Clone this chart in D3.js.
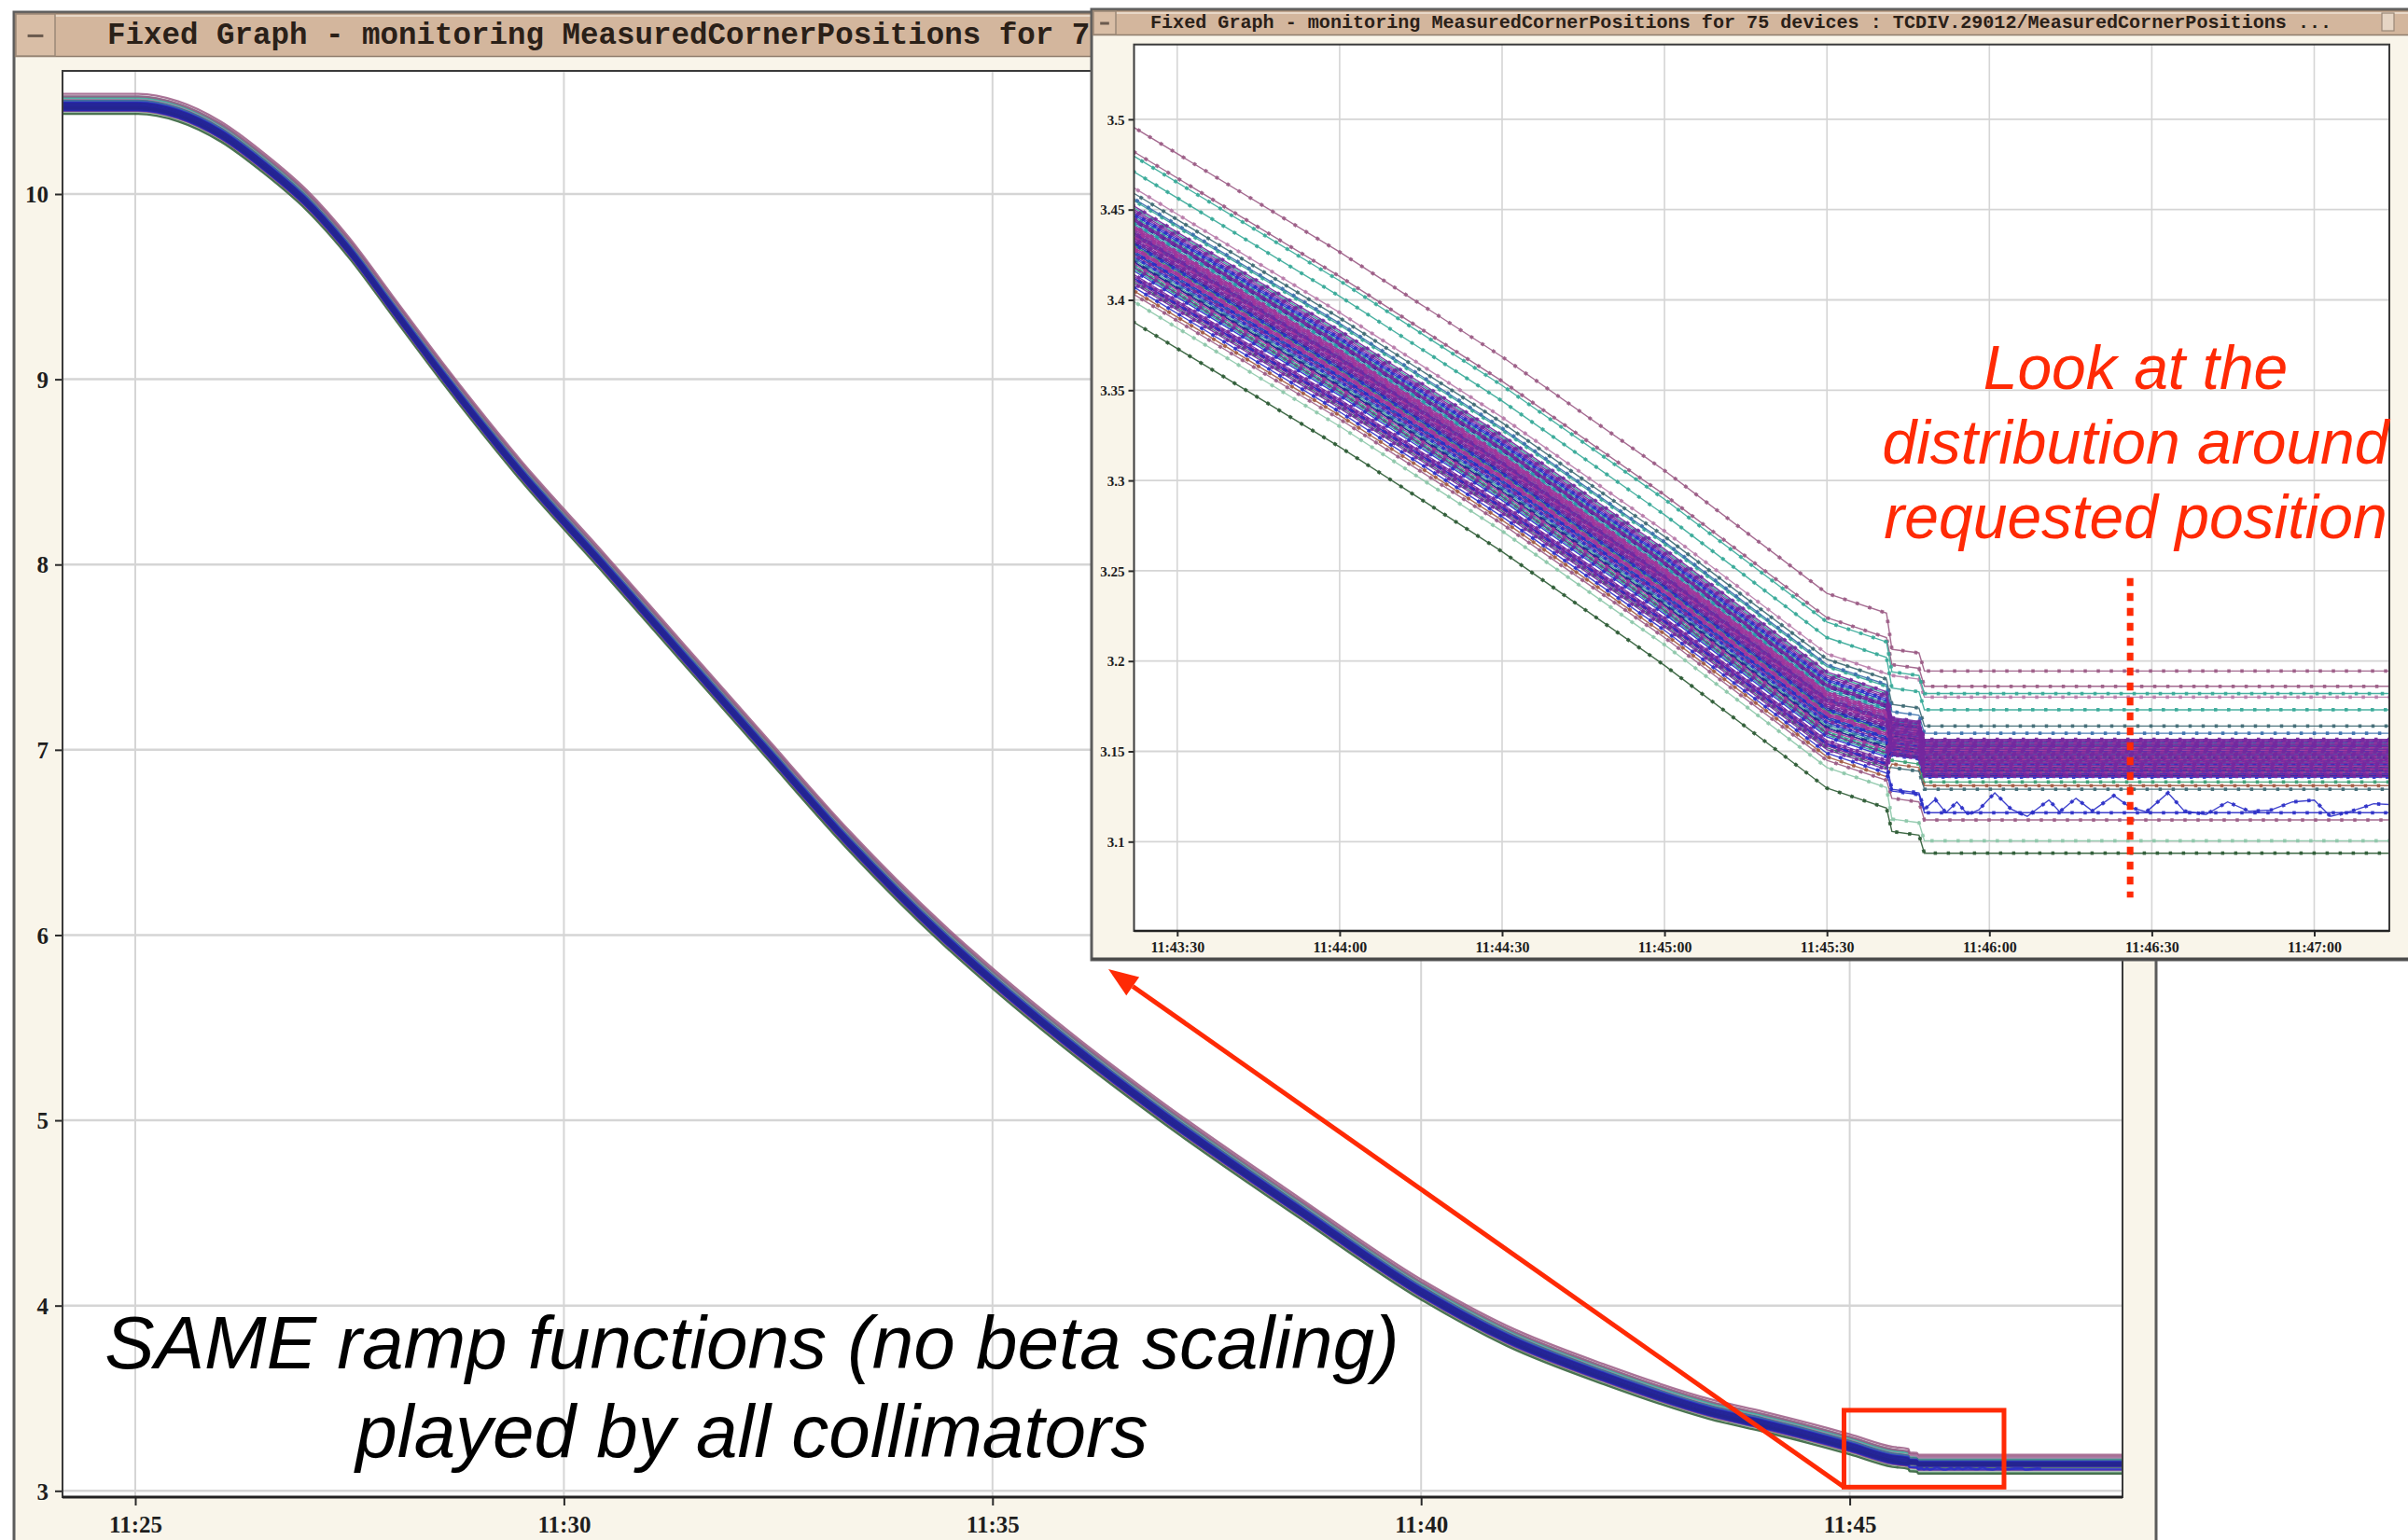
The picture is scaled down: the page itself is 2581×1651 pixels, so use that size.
<!DOCTYPE html>
<html><head><meta charset="utf-8">
<script src="https://cdn.jsdelivr.net/npm/d3@7"></script>
<style>
html,body{margin:0;padding:0;background:#fff;overflow:hidden;}
svg{display:block;}
</style></head><body>
<svg id="chart" width="2581" height="1651"></svg>
<script>
// ================= DATA =================
// Centre of the 75-device bundle: time -> measured corner position
const rampTimes = ["11:24:08","11:25:02","11:25:30","11:26:00","11:26:30","11:27:00","11:27:30","11:28:00","11:28:35","11:29:30","11:30:28","11:31:25","11:32:20","11:33:20","11:34:25","11:35:00","11:36:00","11:37:00","11:38:35","11:40:00","11:41:00","11:42:09","11:43:22","11:44:00","11:44:30","11:45:00","11:45:30","11:45:41","11:45:42","11:45:47","11:45:48","11:48:11"];
const rampValues = [10.48,10.48,10.44,10.33,10.16,9.96,9.70,9.39,9.03,8.50,8.00,7.50,7.02,6.50,6.00,5.76,5.38,5.03,4.52,4.08,3.83,3.62,3.435,3.366,3.308,3.245,3.177,3.166,3.158,3.156,3.146,3.146];
const rampStartTime = "11:43:22";   // left edge of the zoomed graph
const settleTime = "11:45:42";      // devices jump to their final position from here

// Devices: value at 11:43:22 (left edge of zoom) and final settled value
const startTop = [3.4955,3.482,3.4796,3.462,3.471,3.459,3.456];
const finalTop = [3.1945,3.1860,3.1820,3.1800,3.1730,3.1640,3.1600];
const startBulk = [
  3.452,3.441,3.447,3.433,3.455,3.438,3.429,3.444,3.421,3.436,
  3.449,3.427,3.440,3.431,3.418,3.445,3.435,3.424,3.450,3.430,
  3.439,3.414,3.443,3.426,3.437,3.420,3.446,3.432,3.411,3.441,
  3.428,3.448,3.434,3.419,3.438,3.425,3.442,3.416,3.433,3.429,
  3.451,3.423,3.436,3.412,3.440,3.427,3.431,3.445,3.417,3.435,
  3.422,3.439,3.409,3.430,3.444,3.426,3.413,3.437,3.428,3.421];
const finalBulk = [
  3.1566,3.1561,3.1559,3.1553,3.1550,3.1547,3.1541,3.1539,3.1534,3.1530,
  3.1527,3.1525,3.1519,3.1516,3.1512,3.1509,3.1506,3.1500,3.1498,3.1495,
  3.1491,3.1487,3.1485,3.1480,3.1477,3.1472,3.1470,3.1466,3.1461,3.1458,
  3.1455,3.1449,3.1446,3.1443,3.1437,3.1434,3.1430,3.1426,3.1423,3.1419,
  3.1414,3.1411,3.1408,3.1404,3.1401,3.1398,3.1393,3.1390,3.1386,3.1382,
  3.1379,3.1376,3.1372,3.1369,3.1366,3.1363,3.1361,3.1358,3.1452,3.1403];
const startLow = [3.418,3.405,3.410,3.412,3.407,3.403,3.399,3.3876];
const finalLow = [3.1330,3.1310,3.1290,3.1170,3.1160,3.1120,3.1005,3.0936];

// The noisy blue device (4th of the low group) in the settled region
const wiggleDevice = startTop.length + startBulk.length + 3;
const wiggleTimes = ["11:45:48","11:45:50","11:45:52","11:45:54","11:45:56","11:45:58","11:46:01","11:46:04","11:46:07","11:46:11","11:46:13","11:46:16","11:46:19","11:46:23","11:46:26","11:46:29","11:46:33","11:46:36","11:46:40","11:46:44","11:46:48","11:46:52","11:46:56","11:47:00","11:47:03","11:47:07","11:47:11","11:47:14"];
const wiggleValues = [3.1178,3.1234,3.1160,3.1220,3.1150,3.1175,3.1270,3.1180,3.1140,3.1230,3.1165,3.1240,3.1170,3.1255,3.1190,3.1165,3.1270,3.1170,3.1150,3.1220,3.1168,3.1175,3.1220,3.1230,3.1140,3.1170,3.1210,3.1205];

// Tick labels
const mainXTicks = ["11:25","11:30","11:35","11:40","11:45"];
const mainYTicks = [3,4,5,6,7,8,9,10];
const insetXTicks = ["11:43:30","11:44:00","11:44:30","11:45:00","11:45:30","11:46:00","11:46:30","11:47:00"];
const insetYTicks = [3.1,3.15,3.2,3.25,3.3,3.35,3.4,3.45,3.5];

// Annotations (data coordinates)
const zoomBoxTimes = ["11:44:56","11:46:48"];
const zoomBoxValues = [3.02,3.435];
const markerTime = "11:46:26";
const markerValues = [3.069,3.246];

const mainTitle = "Fixed Graph - monitoring MeasuredCornerPositions for 7";
const insetTitle = "Fixed Graph - monitoring MeasuredCornerPositions for 75 devices : TCDIV.29012/MeasuredCornerPositions ...";
const blackNote = ["SAME ramp functions (no beta scaling)","played by all collimators"];
const redNote = ["Look at the","distribution around","requested position"];

// ================= STYLE =================
const palette = {mauve:"#9a5a84", pink:"#b77aa8", teal:"#35a897", slate:"#3d6872", steel:"#3a6fab",
  purple:"#74289e", magenta:"#a1379b", blue:"#2a2dc6", navy:"#25258f", green:"#3a9d72",
  brown:"#a25a42", lgreen:"#8cc6a8", dgreen:"#2b5a33", cyan:"#2a9aa9"};
const colorsTop = ["mauve","mauve","teal","pink","teal","slate","steel"];
const colorsBulk = [
 "purple","magenta","blue","purple","teal","steel","magenta","purple","navy","cyan",
 "purple","blue","magenta","teal","purple","steel","magenta","blue","purple","green",
 "magenta","purple","cyan","blue","purple","magenta","teal","navy","purple","steel",
 "magenta","blue","purple","teal","magenta","purple","cyan","blue","purple","magenta",
 "teal","steel","purple","navy","magenta","teal","blue","purple","cyan","magenta",
 "teal","blue","purple","green","navy","teal","purple","blue","magenta","navy"];
const colorsLow = ["green","brown","slate","blue","blue","mauve","lgreen","dgreen"];
// stacking order (higher = drawn later): inset shows purple on top, main view shows blue core
const layerRankInset = {lgreen:0,dgreen:0,mauve:0,pink:0,slate:1,brown:1,green:2,teal:2,cyan:2,steel:3,navy:4,blue:4,magenta:5,purple:6};
const layerRankMain = {lgreen:0,dgreen:0,mauve:1,pink:1,slate:1,brown:1,green:0,teal:0,cyan:0,steel:3,magenta:2,purple:2,navy:5,blue:4};

const FRAME = "#f9f5ea", TITLEBAR = "#d3b69d", GRID = "#d5d5d5", RED = "#ff2a05";
const tickFont = "'Liberation Serif','DejaVu Serif',serif";
const monoFont = "'Liberation Mono','DejaVu Sans Mono',monospace";
const sansFont = "'Liberation Sans',Arial,sans-serif";

// ================= HELPERS =================
const parse = d3.timeParse("%H:%M:%S");
const parseHM = d3.timeParse("%H:%M");
const svg = d3.select("#chart");
const defs = svg.append("defs");

const deviceStart = startTop.concat(startBulk, startLow);
const deviceFinal = finalTop.concat(finalBulk, finalLow);
const colorKeys = colorsTop.concat(colorsBulk, colorsLow);

const ramp = rampTimes.map((t, i) => ({t: parse(t), v: rampValues[i]}));
const startRef = rampValues[rampTimes.indexOf(rampStartTime)];
const finalRef = rampValues[rampValues.length - 1];
const settle = parse(settleTime);

function deviceSeries(i) {
  const offA = deviceStart[i] - startRef;
  const offB = deviceFinal[i] - finalRef;
  let pts = ramp.map(p => ({t: p.t, v: p.v + (p.t < settle ? offA : offB)}));
  if (i === wiggleDevice) {
    const cut = parse(wiggleTimes[0]);
    pts = pts.filter(p => p.t < cut).concat(wiggleTimes.map((t, k) => ({t: parse(t), v: wiggleValues[k]})));
  }
  return pts;
}
const devices = deviceFinal.map((_, i) => ({i, key: colorKeys[i], pts: deviceSeries(i)}));
const orderInset = devices.slice().sort((a, b) => layerRankInset[a.key] - layerRankInset[b.key] || a.i - b.i);
const orderMain = devices.slice().sort((a, b) => layerRankMain[a.key] - layerRankMain[b.key] || a.i - b.i);

function windowFrame(g, x, y, w, h, titleH, btnW) {
  g.append("rect").attr("x", x).attr("y", y).attr("width", w).attr("height", h)
    .attr("fill", FRAME).attr("stroke", "#5c5c5c").attr("stroke-width", 3);
  g.append("rect").attr("x", x + 1.5).attr("y", y + 1.5).attr("width", w - 3).attr("height", titleH)
    .attr("fill", TITLEBAR).attr("stroke", "#8f7d6c").attr("stroke-width", 1.5);
  g.append("line").attr("x1", x + 3).attr("x2", x + w - 3).attr("y1", y + 4).attr("y2", y + 4)
    .attr("stroke", "#efe3d6").attr("stroke-width", 1.5);
  g.append("rect").attr("x", x + 2).attr("y", y + 2).attr("width", btnW).attr("height", titleH - 1)
    .attr("fill", "#d9bea6").attr("stroke", "#9a8877").attr("stroke-width", 1.5);
  g.append("rect").attr("x", x + 2 + btnW * 0.3).attr("y", y + titleH * 0.52).attr("width", btnW * 0.4).attr("height", 3)
    .attr("fill", "#6a5a4e");
}

function styleAxis(g, size) {
  g.select(".domain").remove();
  g.selectAll(".tick line").attr("stroke", "#2a2a2a").attr("stroke-width", 2);
  g.selectAll(".tick text").attr("font-family", tickFont).attr("font-weight", "bold")
    .attr("font-size", size).attr("fill", "#1e1e1e");
}

// ================= MAIN WINDOW =================
const M = {x0: 67, x1: 2275, y0: 76, y1: 1605};
const xMain = d3.scaleTime().domain([parseHM("11:25"), parseHM("11:45")]).range([145, 1982.6]);
const yMain = d3.scaleLinear().domain([3, 10]).range([1598.3, 208]);
const mainTicksX = mainXTicks.map(parseHM);

const gMain = svg.append("g");
windowFrame(gMain, 15, 13, 2296, 1700, 46, 42);
gMain.append("text").attr("x", 115).attr("y", 47)
  .attr("font-family", monoFont).attr("font-weight", "bold").attr("font-size", 32.5)
  .attr("fill", "#2a2018").text(mainTitle);

gMain.append("rect").attr("x", M.x0).attr("y", M.y0).attr("width", M.x1 - M.x0).attr("height", M.y1 - M.y0).attr("fill", "#fff");
gMain.append("g").selectAll("line").data(mainTicksX).join("line")
  .attr("x1", d => xMain(d)).attr("x2", d => xMain(d)).attr("y1", M.y0).attr("y2", M.y1)
  .attr("stroke", GRID).attr("stroke-width", 2);
gMain.append("g").selectAll("line").data(mainYTicks).join("line")
  .attr("x1", M.x0).attr("x2", M.x1).attr("y1", d => yMain(d)).attr("y2", d => yMain(d))
  .attr("stroke", GRID).attr("stroke-width", 2.5);

defs.append("clipPath").attr("id", "mainClip").append("rect")
  .attr("x", M.x0).attr("y", M.y0).attr("width", M.x1 - M.x0).attr("height", M.y1 - M.y0);
const mainLine = d3.line().x(d => xMain(d.t)).y(d => yMain(d.v)).curve(d3.curveMonotoneX);
const gMainLines = gMain.append("g").attr("clip-path", "url(#mainClip)");
gMainLines.selectAll("path").data(orderMain).join("path")
  .attr("d", d => mainLine(d.pts)).attr("fill", "none")
  .attr("stroke", d => palette[d.key]).attr("stroke-width", 2.4).attr("stroke-opacity", 0.85);

const axX = gMain.append("g").attr("transform", `translate(0,${M.y1})`)
  .call(d3.axisBottom(xMain).tickValues(mainTicksX).tickFormat(d3.timeFormat("%H:%M")).tickSize(9));
styleAxis(axX, 25);
axX.selectAll(".tick text").attr("y", 38).attr("dy", 0);
const axY = gMain.append("g").attr("transform", `translate(${M.x0},0)`)
  .call(d3.axisLeft(yMain).tickValues(mainYTicks).tickFormat(d => String(d)).tickSize(8));
styleAxis(axY, 25);
axY.selectAll(".tick text").attr("x", -15).attr("dy", "0.35em");
gMain.append("rect").attr("x", M.x0).attr("y", M.y0).attr("width", M.x1 - M.x0).attr("height", M.y1 - M.y0)
  .attr("fill", "none").attr("stroke", "#3a3a3a").attr("stroke-width", 2);
gMain.append("line").attr("x1", M.x0).attr("x2", M.x1).attr("y1", M.y1).attr("y2", M.y1)
  .attr("stroke", "#222").attr("stroke-width", 3);

// black annotation
const note = svg.append("text").attr("font-family", sansFont).attr("font-style", "italic")
  .attr("font-size", 80).attr("fill", "#000").attr("text-anchor", "middle");
note.selectAll("tspan").data(blackNote).join("tspan")
  .attr("x", 806).attr("y", (d, i) => 1467 + i * 95).text(d => d);

// red zoom box
const bx0 = xMain(parse(zoomBoxTimes[0])), bx1 = xMain(parse(zoomBoxTimes[1]));
const by0 = yMain(zoomBoxValues[1]), by1 = yMain(zoomBoxValues[0]);
svg.append("rect").attr("x", bx0).attr("y", by0).attr("width", bx1 - bx0).attr("height", by1 - by0)
  .attr("fill", "none").attr("stroke", RED).attr("stroke-width", 5);

// ================= INSET WINDOW =================
const I = {x0: 1215.5, x1: 2561, y0: 47.7, y1: 998};
const xIn = d3.scaleTime().domain([parse("11:43:30"), parse("11:47:00")]).range([1261.8, 2480.5]);
const yIn = d3.scaleLinear().domain([3.1, 3.5]).range([902.3, 127.9]);
const inTicksX = insetXTicks.map(parse);

const gIn = svg.append("g");
windowFrame(gIn, 1170, 10, 1440, 1019, 26, 24);
gIn.append("rect").attr("x", 2553).attr("y", 14).attr("width", 13).attr("height", 19)
  .attr("fill", "#e6d5c4").attr("stroke", "#9a8877").attr("stroke-width", 1.2);
gIn.append("text").attr("x", 1233).attr("y", 30)
  .attr("font-family", monoFont).attr("font-weight", "bold").attr("font-size", 20.1)
  .attr("fill", "#2a2018").text(insetTitle);

gIn.append("rect").attr("x", I.x0).attr("y", I.y0).attr("width", I.x1 - I.x0).attr("height", I.y1 - I.y0).attr("fill", "#fff");
gIn.append("g").selectAll("line").data(inTicksX).join("line")
  .attr("x1", d => xIn(d)).attr("x2", d => xIn(d)).attr("y1", I.y0).attr("y2", I.y1)
  .attr("stroke", GRID).attr("stroke-width", 1.6);
gIn.append("g").selectAll("line").data(insetYTicks).join("line")
  .attr("x1", I.x0).attr("x2", I.x1).attr("y1", d => yIn(d)).attr("y2", d => yIn(d))
  .attr("stroke", GRID).attr("stroke-width", 1.8);

defs.append("clipPath").attr("id", "inClip").append("rect")
  .attr("x", I.x0).attr("y", I.y0).attr("width", I.x1 - I.x0).attr("height", I.y1 - I.y0);
const inLine = d3.line().x(d => xIn(d.t)).y(d => yIn(d.v));
const gInLines = gIn.append("g").attr("clip-path", "url(#inClip)");
const devG = gInLines.selectAll("g").data(orderInset).join("g");
devG.append("path").attr("d", d => inLine(d.pts)).attr("fill", "none")
  .attr("stroke", d => palette[d.key]).attr("stroke-width", 1.4).attr("stroke-opacity", 0.9);
devG.append("path").attr("d", d => inLine(d.pts)).attr("fill", "none")
  .attr("stroke", d => palette[d.key]).attr("stroke-width", 3.8).attr("stroke-opacity", 0.9)
  .attr("stroke-dasharray", "3.5 10.5").attr("stroke-dashoffset", d => (d.i * 5) % 14);

const iaX = gIn.append("g").attr("transform", `translate(0,${I.y1})`)
  .call(d3.axisBottom(xIn).tickValues(inTicksX).tickFormat(d3.timeFormat("%H:%M:%S")).tickSize(6));
styleAxis(iaX, 16);
iaX.selectAll(".tick text").attr("y", 23).attr("dy", 0);
const iaY = gIn.append("g").attr("transform", `translate(${I.x0},0)`)
  .call(d3.axisLeft(yIn).tickValues(insetYTicks).tickFormat(d => String(d)).tickSize(6));
styleAxis(iaY, 15);
iaY.selectAll(".tick text").attr("x", -10).attr("dy", "0.35em");
gIn.append("rect").attr("x", I.x0).attr("y", I.y0).attr("width", I.x1 - I.x0).attr("height", I.y1 - I.y0)
  .attr("fill", "none").attr("stroke", "#3a3a3a").attr("stroke-width", 2);
gIn.append("line").attr("x1", I.x0).attr("x2", I.x1).attr("y1", I.y1).attr("y2", I.y1)
  .attr("stroke", "#222").attr("stroke-width", 2.5);
gIn.append("line").attr("x1", 1170).attr("x2", 2581).attr("y1", 1028).attr("y2", 1028)
  .attr("stroke", "#4a4a4a").attr("stroke-width", 3);

// ================= RED ANNOTATIONS =================
const tip = [1188, 1039];
const start = [bx0, by1];
const ang = Math.atan2(tip[1] - start[1], tip[0] - start[0]);
const headL = 32, headW = 12;
const base = [tip[0] - headL * Math.cos(ang), tip[1] - headL * Math.sin(ang)];
svg.append("line").attr("x1", start[0]).attr("y1", start[1]).attr("x2", base[0]).attr("y2", base[1])
  .attr("stroke", RED).attr("stroke-width", 5);
svg.append("path").attr("fill", RED).attr("d", d3.line()([
  tip,
  [base[0] + headW * Math.sin(ang), base[1] - headW * Math.cos(ang)],
  [base[0] - headW * Math.sin(ang), base[1] + headW * Math.cos(ang)]
]) + "Z");

const mx = xIn(parse(markerTime));
svg.append("line").attr("x1", mx).attr("x2", mx)
  .attr("y1", yIn(markerValues[1])).attr("y2", yIn(markerValues[0]))
  .attr("stroke", RED).attr("stroke-width", 7).attr("stroke-dasharray", "8.5 7.5");

const rn = svg.append("text").attr("font-family", sansFont).attr("font-style", "italic")
  .attr("font-size", 66).attr("fill", RED).attr("text-anchor", "middle");
rn.selectAll("tspan").data(redNote).join("tspan")
  .attr("x", 2289).attr("y", (d, i) => 417 + i * 80).text(d => d);
</script>
</body></html>
